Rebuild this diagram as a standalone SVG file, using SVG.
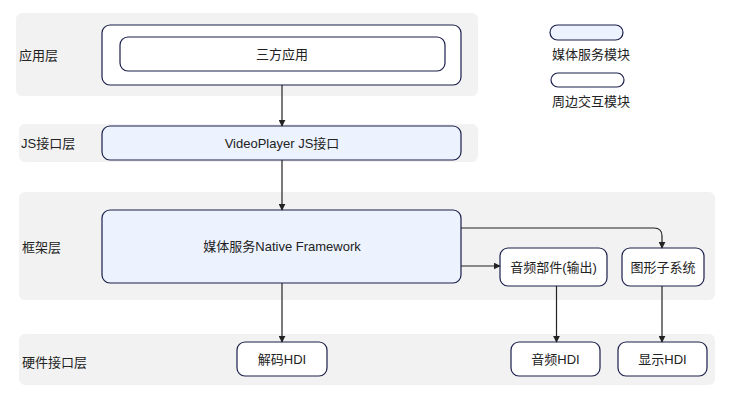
<svg xmlns="http://www.w3.org/2000/svg" width="731" height="401" viewBox="0 0 731 401">
<defs>
<style>
.layer{fill:#f2f2f2;stroke:none}
.node{fill:#ffffff;stroke:#1b1f4b;stroke-width:1.2}
.blue{fill:#ecf2fe}
.t{font-family:"Liberation Sans","Noto Sans CJK SC",sans-serif;font-size:13px;fill:#222}
.c{text-anchor:middle}
.conn{fill:none;stroke:#222;stroke-width:1.2;marker-end:url(#ah)}
</style>
<marker id="ah" viewBox="0 0 10 10" refX="9" refY="5" markerWidth="7" markerHeight="7" markerUnits="userSpaceOnUse" orient="auto">
<path d="M0,0 L10,5 L0,10 z" fill="#222"/>
</marker>
</defs>
<rect width="731" height="401" fill="#ffffff"/>
<g id="layers">
<g id="layer-app"><rect class="layer" x="16" y="13" width="462" height="83" rx="6"/><text class="t" x="19" y="60">应用层</text></g>
<g id="layer-js"><rect class="layer" x="19" y="124" width="459" height="38" rx="6"/><text class="t" x="21" y="148">JS接口层</text></g>
<g id="layer-fw"><rect class="layer" x="19" y="192" width="696" height="108" rx="6"/><text class="t" x="22" y="252">框架层</text></g>
<g id="layer-hw"><rect class="layer" x="19" y="334" width="696" height="51" rx="6"/><text class="t" x="22" y="367">硬件接口层</text></g>
</g>
<g id="legend">
<g id="legend-media"><rect class="node blue" x="550" y="25" width="73" height="15" rx="7.5"/><text class="t c" x="591" y="59">媒体服务模块</text></g>
<g id="legend-peri"><rect class="node" x="551" y="73" width="73" height="14" rx="7"/><text class="t c" x="591" y="106">周边交互模块</text></g>
</g>
<g id="app-outer"><rect class="node" x="102" y="25" width="359" height="60" rx="8"/></g>
<g id="app-third"><rect class="node" x="120" y="37" width="325" height="34" rx="8"/><text class="t c" x="282" y="59">三方应用</text></g>
<g id="js-api"><rect class="node blue" x="102" y="126" width="359" height="34" rx="8"/><text class="t c" x="282" y="148">VideoPlayer JS接口</text></g>
<g id="native-fw"><rect class="node blue" x="102" y="210" width="359" height="73" rx="8"/><text class="t c" x="282" y="251">媒体服务Native Framework</text></g>
<g id="audio-out"><rect class="node" x="500" y="248" width="107" height="38" rx="8"/><text class="t c" x="553.5" y="272">音频部件(输出)</text></g>
<g id="graphic"><rect class="node" x="622" y="248" width="82" height="38" rx="8"/><text class="t c" x="663" y="272">图形子系统</text></g>
<g id="decode-hdi"><rect class="node" x="237" y="342" width="90" height="34" rx="8"/><text class="t c" x="282" y="364">解码HDI</text></g>
<g id="audio-hdi"><rect class="node" x="511" y="342" width="89" height="34" rx="8"/><text class="t c" x="555.5" y="364">音频HDI</text></g>
<g id="display-hdi"><rect class="node" x="618" y="342" width="89" height="34" rx="8"/><text class="t c" x="662.5" y="364">显示HDI</text></g>
<g id="connectors">
<path class="conn" d="M282,85 L282,126"/>
<path class="conn" d="M282,160 L282,210"/>
<path class="conn" d="M282,283 L282,342"/>
<path class="conn" d="M461,228 L654,228 Q662,228 662,236 L662,248"/>
<path class="conn" d="M461,266 L500,266"/>
<path class="conn" d="M556.5,286 L556.5,342"/>
<path class="conn" d="M662,286 L662,342"/>
</g>
</svg>
